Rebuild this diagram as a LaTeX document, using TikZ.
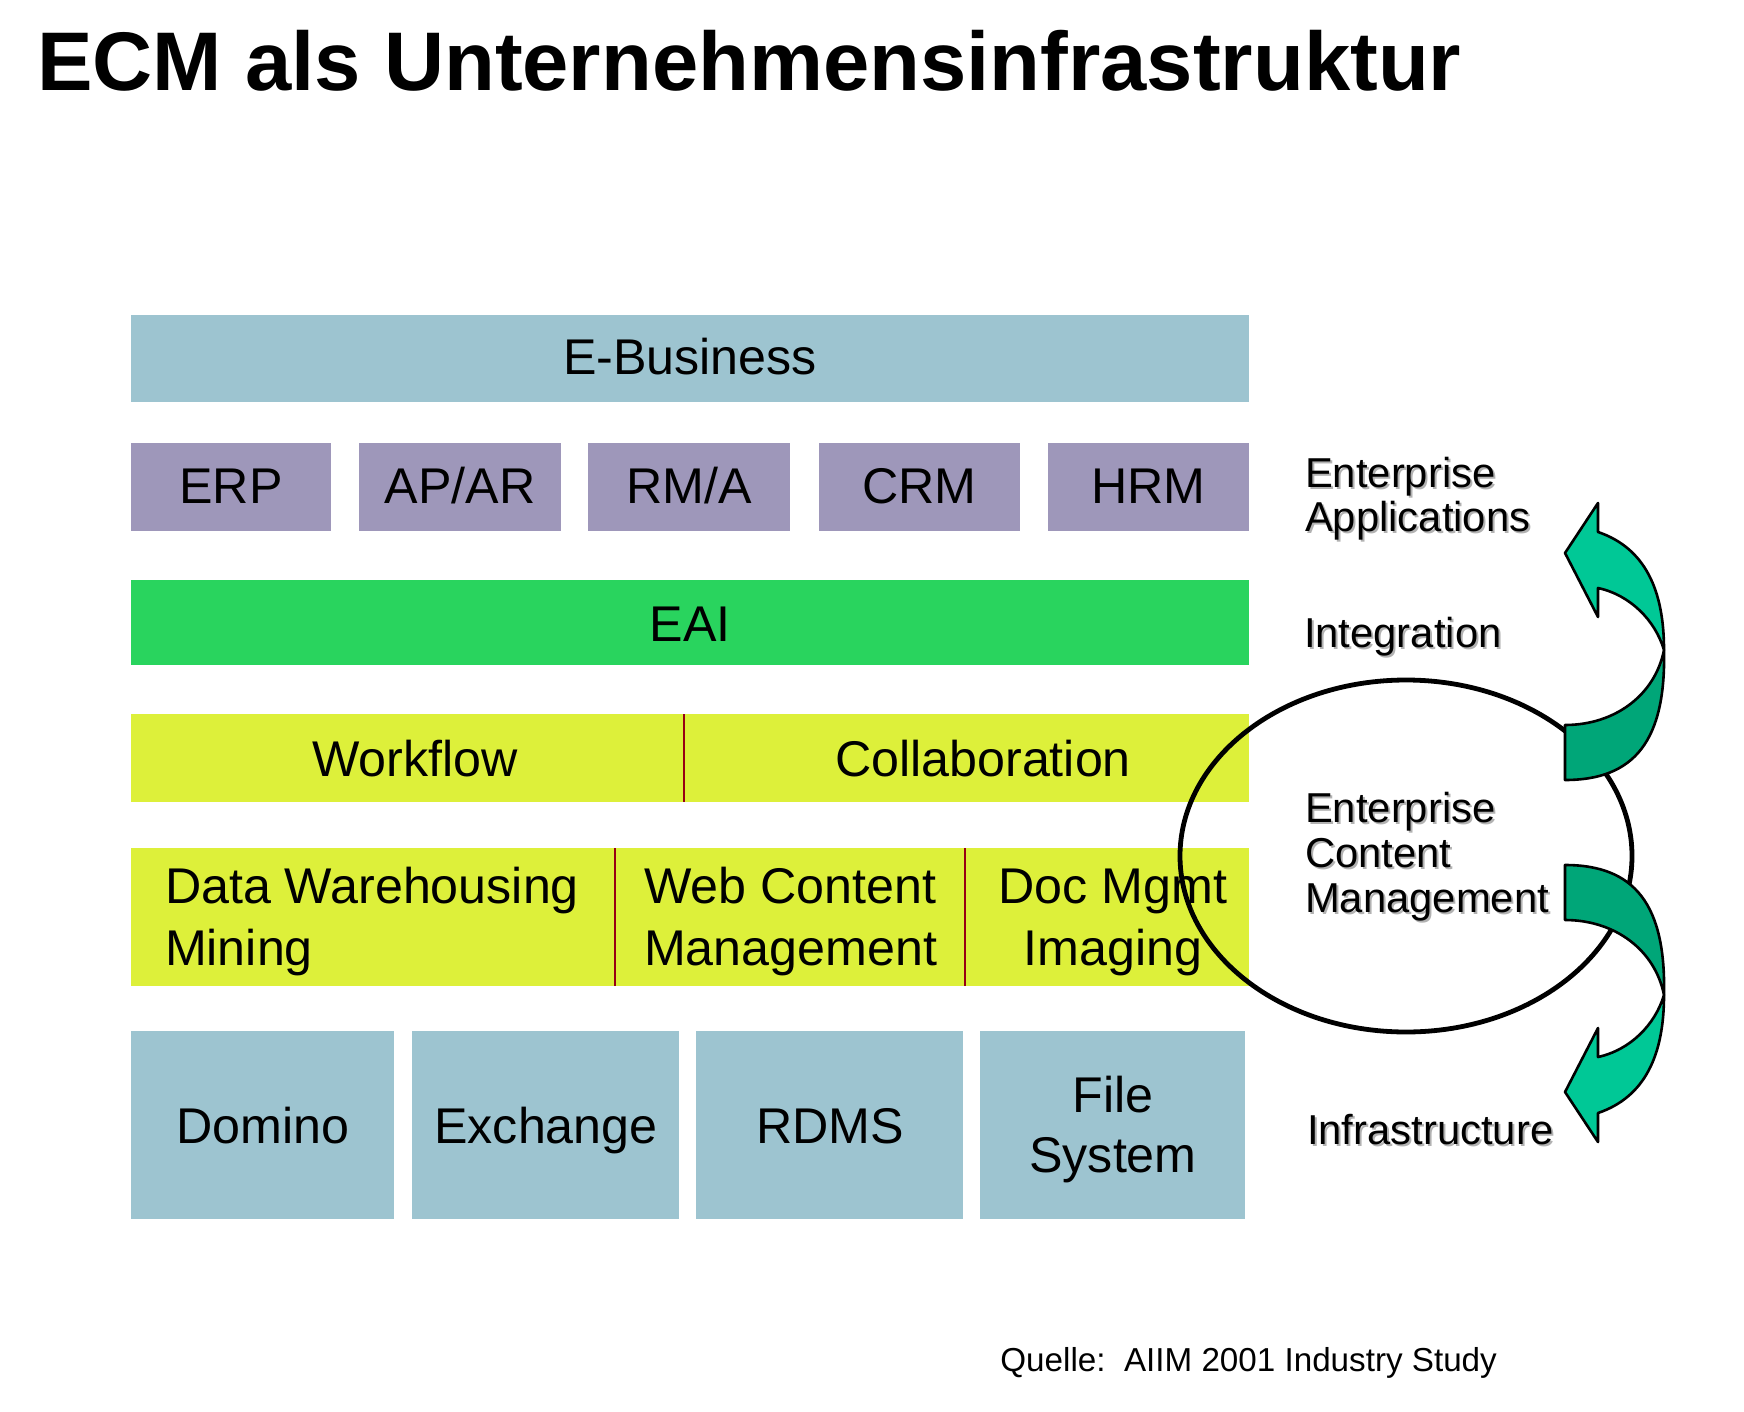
\documentclass[tikz,border=0pt]{standalone}
\usepackage{fontspec}
\setmainfont{Liberation Sans}
\definecolor{boxblue}{RGB}{157,196,208}
\definecolor{boxlav}{RGB}{158,151,186}
\definecolor{boxgreen}{RGB}{41,212,94}
\definecolor{boxyellow}{RGB}{221,240,58}
\definecolor{divred}{RGB}{150,0,20}
\definecolor{arrlight}{RGB}{0,200,150}
\definecolor{arrdark}{RGB}{0,166,120}
\tikzset{
  lbl/.style={inner sep=0pt, outer sep=0pt, font=\fontsize{25.1}{30}\selectfont, anchor=base},
  lbll/.style={lbl, anchor=base west},
  side/.style={inner sep=0pt, outer sep=0pt, font=\fontsize{20.9}{25}\selectfont, anchor=base west},
  sideshadow/.style={side, text=black!30},
  divider/.style={draw=divred, line width=1pt},
  arrowpart/.style={draw=black, line width=1.3pt, line join=round},
}
\newcommand\sidelabel[4]{%
  \node[sideshadow] (#1s) at ({#2+2},{#3+2}) {#4};
  \node[side] (#1) at (#2,#3) {#4};
}
\begin{document}
\begin{tikzpicture}[x=0.5pt,y=-0.5pt]
\useasboundingbox[fill=white] (0,0) rectangle (1744,1412);

% title
\node[inner sep=0pt, anchor=base west, font=\fontsize{41.6}{50}\selectfont\bfseries] (title) at (37,91) {ECM als Unternehmensinfrastruktur};

% E-Business
\fill[boxblue] (131,315) rectangle (1249,402);
\node[lbl] (ebiz) at (690,374) {E-Business};

% Enterprise applications row
\fill[boxlav] (131,443) rectangle (331,531);
\fill[boxlav] (359,443) rectangle (561,531);
\fill[boxlav] (588,443) rectangle (790,531);
\fill[boxlav] (819,443) rectangle (1020,531);
\fill[boxlav] (1048,443) rectangle (1249,531);
\node[lbl] (erp) at (231,503) {ERP};
\node[lbl] (apar) at (460,503) {AP/AR};
\node[lbl] (rma) at (689,503) {RM/A};
\node[lbl] (crm) at (919.5,503) {CRM};
\node[lbl] (hrm) at (1148.5,503) {HRM};

% EAI
\fill[boxgreen] (131,580) rectangle (1249,665);
\node[lbl] (eai) at (690,641) {EAI};

% Workflow / Collaboration
\fill[boxyellow] (131,714) rectangle (1249,802);
\draw[divider, line width=0.7pt] (684,714) -- (684,802);
\node[lbl] (wf) at (415,776) {Workflow};
\node[lbl] (coll) at (983,776) {Collaboration};

% DW / WCM / DM
\fill[boxyellow] (131,848) rectangle (1249,986);
\draw[divider] (615,848) -- (615,986);
\draw[divider] (965,848) -- (965,986);
\node[lbll] (dw) at (165,903) {Data Warehousing};
\node[lbll] (mining) at (165,965) {Mining};
\node[lbll] (web) at (644,903) {Web Content};
\node[lbll] (wcm) at (644,965) {Management};
\node[lbl] (doc) at (1113,903) {Doc Mgmt};
\node[lbl] (img) at (1113,965) {Imaging};

% Infrastructure row
\fill[boxblue] (131,1031) rectangle (394,1219);
\fill[boxblue] (412,1031) rectangle (679,1219);
\fill[boxblue] (696,1031) rectangle (963,1219);
\fill[boxblue] (980,1031) rectangle (1245,1219);
\node[lbl] (domino) at (263,1143) {Domino};
\node[lbl] (exch) at (546,1143) {Exchange};
\node[lbl] (rdms) at (830,1143) {RDMS};
\node[lbl] (file) at (1113,1112) {File};
\node[lbl] (sys) at (1113,1172) {System};

% ellipse
\draw[line width=2.4pt] (1406,856) ellipse [x radius=226, y radius=176];

% upper curved arrow
\filldraw[arrowpart, fill=arrdark] (1664,650) .. controls (1666,740) and (1635,780) .. (1565,780)
  -- (1565,725) .. controls (1615,725) and (1655,695) .. (1664,650) -- cycle;
\filldraw[arrowpart, fill=arrlight] (1598,588) -- (1598,617) -- (1565,553) -- (1598,503) -- (1598,532)
  .. controls (1645,548) and (1664,590) .. (1664,650)
  .. controls (1655,620) and (1630,595) .. (1598,588) -- cycle;

% lower curved arrow
\filldraw[arrowpart, fill=arrdark] (1664,995) .. controls (1666,905) and (1635,865) .. (1565,865)
  -- (1565,920) .. controls (1615,920) and (1655,950) .. (1664,995) -- cycle;
\filldraw[arrowpart, fill=arrlight] (1598,1057) -- (1598,1028) -- (1565,1092) -- (1598,1142) -- (1598,1113)
  .. controls (1645,1097) and (1664,1055) .. (1664,995)
  .. controls (1655,1025) and (1630,1050) .. (1598,1057) -- cycle;

% side labels
\sidelabel{ea1}{1305}{487}{Enterprise}
\sidelabel{ea2}{1305}{531}{Applications}
\sidelabel{integ}{1304}{647}{Integration}
\sidelabel{ecm1}{1305}{822}{Enterprise}
\sidelabel{ecm2}{1305}{867}{Content}
\sidelabel{ecm3}{1305}{912}{Management}
\sidelabel{infra}{1307}{1144}{Infrastructure}

% source
\node[inner sep=0pt, anchor=base west, font=\fontsize{16.6}{20}\selectfont] (src) at (1000,1371) {Quelle:\ \ AIIM 2001 Industry Study};
\end{tikzpicture}
\end{document}
